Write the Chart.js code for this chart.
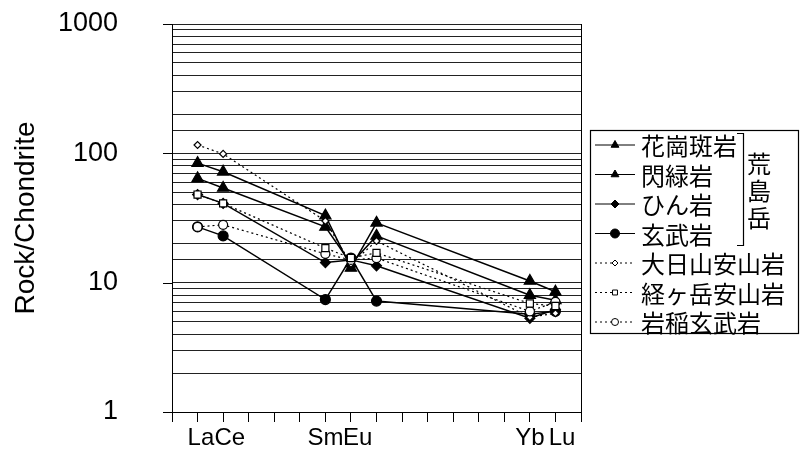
<!DOCTYPE html>
<html>
<head>
<meta charset="utf-8">
<script src="https://cdn.jsdelivr.net/npm/chart.js@4/dist/chart.umd.min.js"></script>
<style>
  html,body{margin:0;padding:0;background:#fff}
  #wrap{position:relative;width:802px;height:453px}
</style>
</head>
<body>
<div id="wrap"><canvas id="c"></canvas></div>
<script>
// element positions on the x axis (La=1 ... Lu=15)
const tickLabels = ['', ' La','  Ce','','','','Sm','  Eu','','','','','','','Yb','  Lu',''];
const elemPos    = [1, 2, 6, 7, 8, 14, 15];   // La Ce Sm Eu Gd Yb Lu

const granitePorphyry = [84, 72, 33, 13, 29, 10.3, 8.5];   // 花崗斑岩
const diorite         = [64, 54, 27, 14, 23, 8.0, 7.3];    // 閃緑岩
const porphyrite      = [48, 41, 14.3, 15, 13.5, 5.3, 6.2];// ひん岩
const basalt          = [27, 23, 7.4, 15.5, 7.2, 5.7, 6.0];// 玄武岩
const dainichiAndes   = [116, 99, 30, 14, 21, 5.4, 5.8];   // 大日山安山岩
const kyogaAndes      = [48, 41, 18.5, 15.5, 17, 6.9, 6.6];// 経ヶ岳安山岩
const iwainaBasalt    = [27, 28, 16.7, 15, 15.5, 6.0, 7.1];// 岩稲玄武岩

const seriesNames = ['花崗斑岩','閃緑岩','ひん岩','玄武岩','大日山安山岩','経ヶ岳安山岩','岩稲玄武岩'];
const seriesVals  = [granitePorphyry, diorite, porphyrite, basalt, dainichiAndes, kyogaAndes, iwainaBasalt];
const yLabels = [1, 10, 100, 1000];

const styles = [
  {pt:'triangle', r:6.5, fill:'#000', dash:[],    ord:2, lr:4.5},
  {pt:'triangle', r:6.5, fill:'#000', dash:[],    ord:2, lr:4.5},
  {pt:'rectRot',  r:5,   fill:'#000', dash:[],    ord:2, lr:4},
  {pt:'circle',   r:5,   fill:'#000', dash:[],    ord:2, lr:4.5},
  {pt:'rectRot',  r:3.5, fill:'#fff', dash:[2,3], ord:1, lr:3},
  {pt:'rect',     r:5,   fill:'#fff', dash:[2,3], ord:0, lr:3.5},
  {pt:'circle',   r:4.5, fill:'#fff', dash:[2,3], ord:0, lr:3.5},
];

const datasets = seriesVals.map((vals,i)=>({
  label: seriesNames[i],
  data: vals.map((v,j)=>({x:elemPos[j], y:v})),
  borderColor:'#000',
  borderWidth: styles[i].dash.length ? 1.2 : 1.5,
  borderDash: styles[i].dash,
  pointStyle: styles[i].pt,
  pointRadius: styles[i].r,
  pointBackgroundColor: styles[i].fill,
  pointBorderColor:'#000',
  pointBorderWidth: 1.2,
  order: styles[i].ord,
  tension: 0,
  fill: false,
}));

const FONT = "'Liberation Sans', Arial, sans-serif";
const JP = "'Noto Sans CJK JP', sans-serif";

/* frame, decade ticks, legend with bracket */
const decor = {
  id:'decor',
  afterDraw(chart){
    const ctx = chart.ctx, a = chart.chartArea, ys = chart.scales.y;
    ctx.save();
    ctx.strokeStyle = '#000'; ctx.lineWidth = 1;
    ctx.beginPath(); ctx.moveTo(Math.round(a.right)+0.5, a.top); ctx.lineTo(Math.round(a.right)+0.5, a.bottom); ctx.stroke();
    yLabels.forEach(v=>{
      const y = Math.round(ys.getPixelForValue(v)) + 0.5;
      ctx.beginPath(); ctx.moveTo(a.left - 9, y); ctx.lineTo(a.left, y); ctx.stroke();
    });

    // legend box
    ctx.lineWidth = 1.2;
    ctx.strokeRect(590.5, 130.5, 208, 203);
    const rowY = 145, gap = 29.5;
    chart.data.datasets.forEach((ds,i)=>{
      const y = rowY + i*gap, st = styles[i];
      ctx.setLineDash(st.dash); ctx.lineWidth = 1;
      ctx.beginPath(); ctx.moveTo(595, y); ctx.lineTo(635, y); ctx.stroke();
      ctx.setLineDash([]);
      ctx.fillStyle = st.fill; ctx.strokeStyle = '#000'; ctx.lineWidth = 1;
      Chart.helpers.drawPoint(ctx, {pointStyle:st.pt, radius:st.lr, rotation:0, borderWidth:1}, 615, y);
      ctx.fillStyle = '#000';
      ctx.font = '24px ' + JP; ctx.textAlign = 'left'; ctx.textBaseline = 'middle';
      ctx.fillText(ds.label, 641, y + 1);
    });

    // bracket for 荒島岳
    ctx.lineWidth = 1.2;
    ctx.beginPath();
    ctx.moveTo(737, 133.5); ctx.lineTo(743.5, 133.5); ctx.lineTo(743.5, 245.5); ctx.lineTo(737, 245.5);
    ctx.stroke();
    ctx.font = '24px ' + JP; ctx.textAlign = 'center'; ctx.textBaseline = 'middle';
    ['荒','島','岳'].forEach((ch,k)=>ctx.fillText(ch, 759, 164 + k*27));
    ctx.restore();
  }
};

new Chart(document.getElementById('c'), {
  type:'line',
  data:{datasets},
  options:{
    responsive:true, maintainAspectRatio:false, animation:false,
    layout:{padding:{top:24, right:221, left:0, bottom:0}},
    plugins:{legend:{display:false}, tooltip:{enabled:false}},
    scales:{
      x:{
        type:'linear', min:0, max:16, offset:false,
        afterFit: s => { s.height = 41; },
        ticks:{stepSize:1, autoSkip:false, maxRotation:0, padding:2, color:'#000',
               font:{family:FONT, size:24},
               callback: v => tickLabels[v] ?? ''},
        grid:{drawOnChartArea:false, tickLength:10, color:'#000', lineWidth:1},
        border:{display:true, color:'#000', width:1}
      },
      y:{
        type:'logarithmic', min:1, max:1000,
        afterFit: s => { s.width = 172; },
        ticks:{autoSkip:false, padding:2, color:'#000', font:{family:FONT, size:27},
               callback: v => yLabels.includes(v) ? String(v) : ''},
        grid:{color:'#222', lineWidth:1, tickLength:52, tickColor:'rgba(0,0,0,0)'},
        border:{display:true, color:'#000', width:1},
        title:{display:true, text:'Rock/Chondrite', color:'#000',
               font:{family:FONT, size:28}, padding:{top:9, bottom:0}}
      }
    }
  },
  plugins:[decor]
});
</script>
</body>
</html>
